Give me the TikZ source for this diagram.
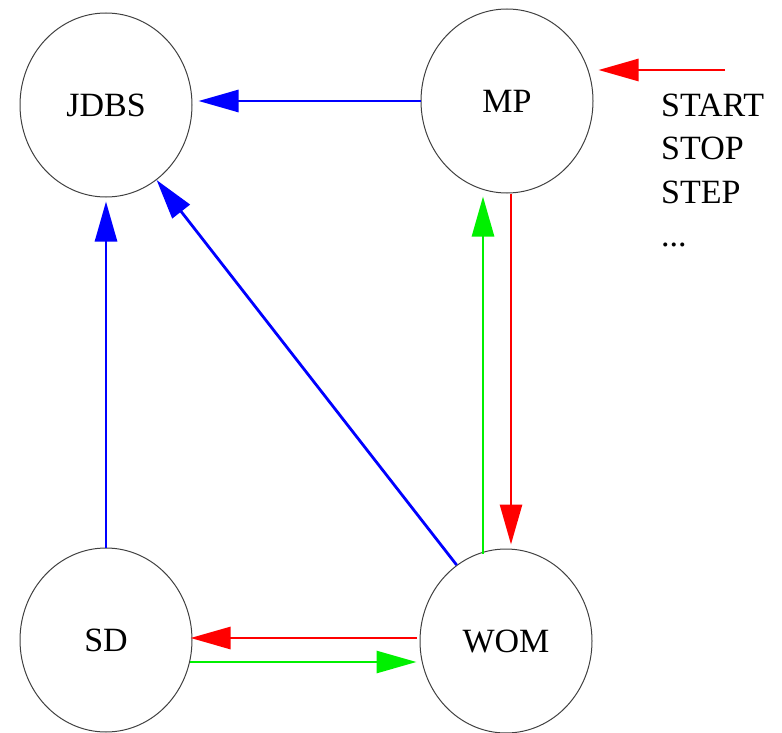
\documentclass[tikz,border=0pt]{standalone}
\usepackage{fontspec}
\setmainfont{Liberation Serif}
\usetikzlibrary{shapes.geometric,arrows.meta}
\definecolor{pblue}{RGB}{0,0,255}
\definecolor{pred}{RGB}{255,0,0}
\definecolor{pgreen}{RGB}{0,240,0}
\begin{document}
\begin{tikzpicture}[x=1pt,y=-1pt,
  proc/.style={ellipse,draw=black!75,line width=1pt,minimum width=172pt,minimum height=184pt,inner sep=0pt,font=\fontsize{34}{40}\selectfont},
  conn/.style={line width=2.8pt,-{Triangle[length=40pt,width=22pt]}},
  lbl/.style={anchor=base west,inner sep=0pt,font=\fontsize{34}{40}\selectfont}]
\useasboundingbox (0,0) rectangle (782,733);
\node[proc] (JDBS) at (106,105) {JDBS};
\node[proc] (MP) at (507,101) {MP};
\node[proc] (SD) at (106,640) {SD};
\node[proc] (WOM) at (506,641) {WOM};
\node[lbl] (t1) at (661,117) {START};
\node[lbl] (t2) at (661,160) {STOP};
\node[lbl] (t3) at (661,203) {STEP};
\node[lbl] (t4) at (661,246) {...};
\coordinate (src) at (725,70);
% blue
\draw[conn,pblue] (MP.west) -- ([xshift=6pt]JDBS.east |- MP.west);
\draw[conn,pblue] (SD.north) -- ([yshift=-4pt]JDBS.south);
\draw[conn,pblue] (WOM.123) -- (JDBS.-56);
% green / red verticals
\draw[conn,pgreen] ([xshift=-23pt,yshift=-5pt]WOM.north) -- ([xshift=-24pt,yshift=-3pt]MP.south);
\draw[conn,pred] ([xshift=4pt]MP.south) -- ([xshift=5pt,yshift=4pt]WOM.north);
% horizontals
\draw[conn,pred] ([xshift=-3pt,yshift=3pt]WOM.west) -- ([xshift=-2pt,yshift=2pt]SD.east);
\draw[conn,pgreen] ([xshift=-3pt,yshift=-22pt]SD.east) -- ([xshift=-3pt,yshift=-21pt]WOM.west);
% input
\draw[conn,pred,shorten >=5pt] (src) -- (src -| MP.east);
\end{tikzpicture}
\end{document}
